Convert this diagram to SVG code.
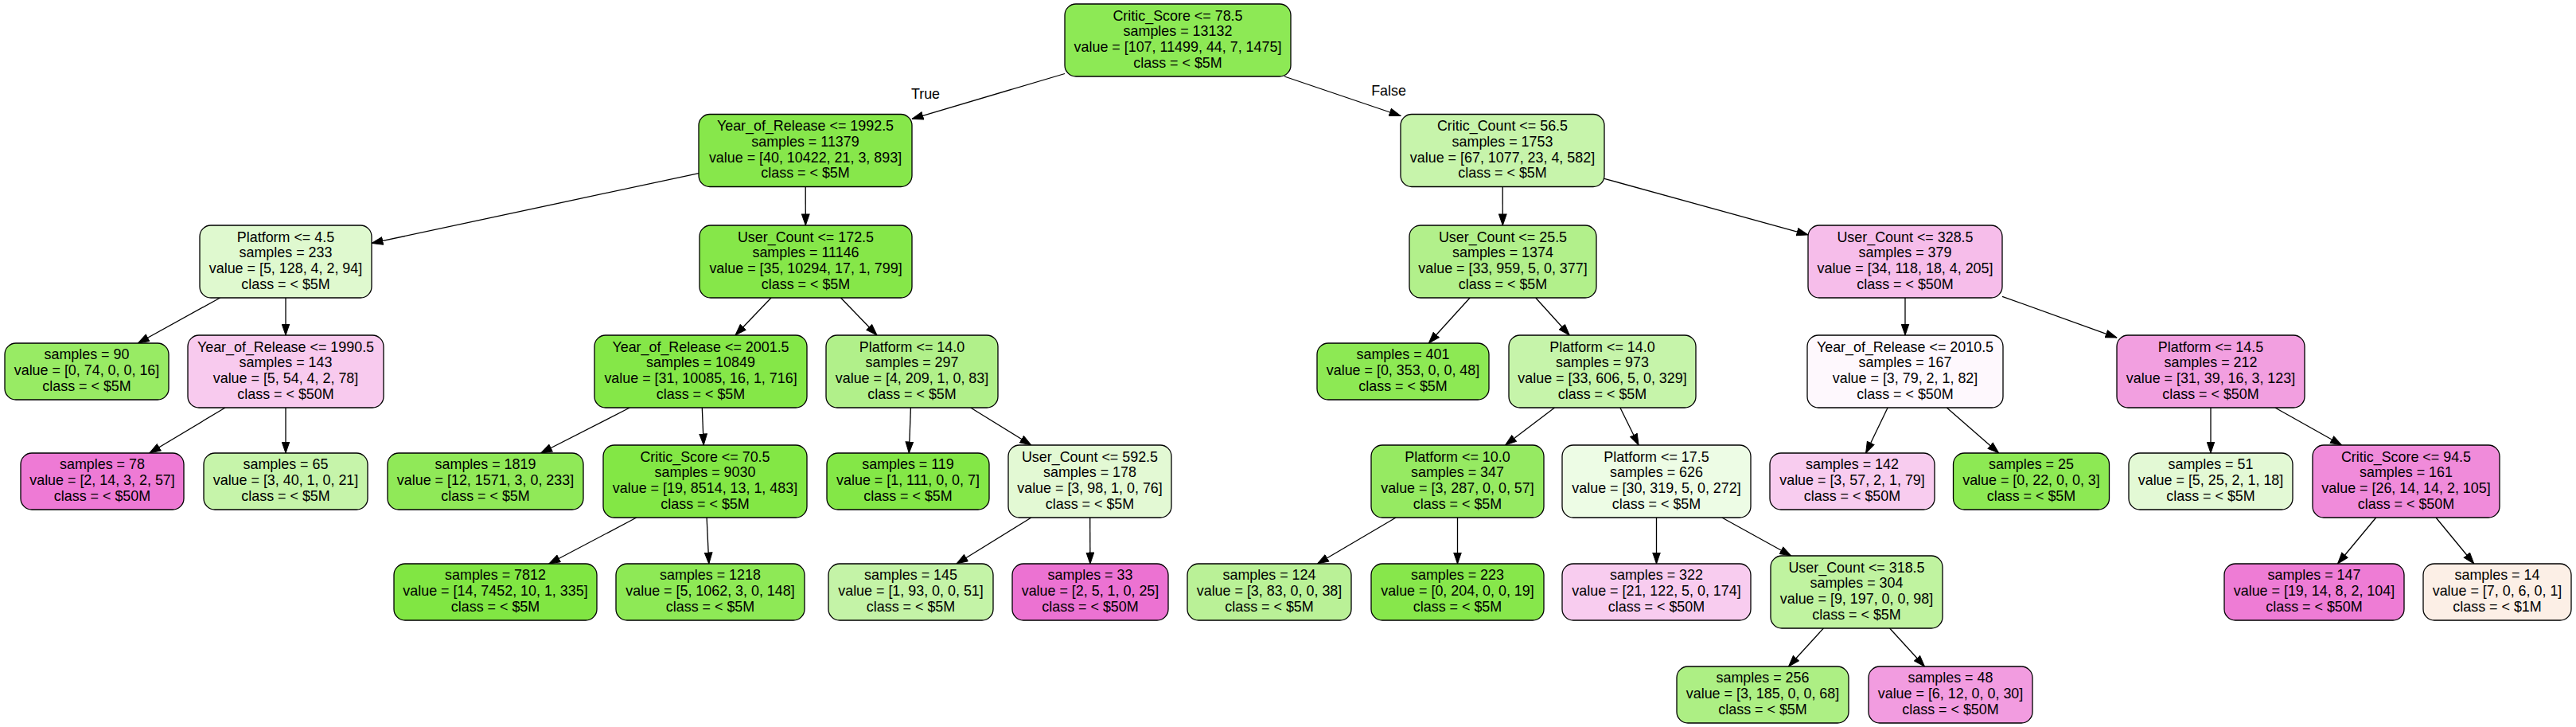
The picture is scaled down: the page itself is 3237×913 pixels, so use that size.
<svg xmlns="http://www.w3.org/2000/svg" width="3237" height="913" viewBox="0 0 3237 913">
<style>
.box{stroke:#000;stroke-width:1.3}
text{font-family:"Liberation Sans",Arial,Helvetica,sans-serif;font-size:17.9px;text-anchor:middle;fill:#000}
.edge{stroke:#000;stroke-width:1.3;fill:none;marker-end:url(#arrow)}
</style>
<defs>
<marker id="arrow" markerUnits="userSpaceOnUse" markerWidth="15" markerHeight="11" viewBox="0 0 15 11" refX="14.5" refY="5.5" orient="auto">
<path d="M0.5,0.7 L14.5,5.5 L0.5,10.3 Z" fill="#000" stroke="#000" stroke-width="1"/>
</marker>
</defs>
<rect width="3237" height="913" fill="#fff"/>
<g id="connectors">
<line class="edge" x1="1338" y1="92.5" x2="1146" y2="149.3"/>
<line class="edge" x1="1614" y1="96" x2="1760" y2="145.5"/>
<line class="edge" x1="878" y1="217.6" x2="467" y2="305.4"/>
<line class="edge" x1="1012.2" y1="234.5" x2="1012.3" y2="283"/>
<line class="edge" x1="276.6" y1="374" x2="173.3" y2="431"/>
<line class="edge" x1="359" y1="374" x2="359" y2="421"/>
<line class="edge" x1="283" y1="512" x2="187.8" y2="569"/>
<line class="edge" x1="359" y1="512" x2="359" y2="569"/>
<line class="edge" x1="969" y1="374" x2="924" y2="421"/>
<line class="edge" x1="1056.5" y1="374" x2="1102" y2="421"/>
<line class="edge" x1="791.3" y1="512" x2="679.6" y2="569"/>
<line class="edge" x1="882.3" y1="512" x2="884.2" y2="559"/>
<line class="edge" x1="799.8" y1="650" x2="689.8" y2="708"/>
<line class="edge" x1="888.1" y1="650" x2="890.8" y2="708"/>
<line class="edge" x1="1144.4" y1="512" x2="1142.3" y2="569"/>
<line class="edge" x1="1219.7" y1="512" x2="1295.8" y2="559"/>
<line class="edge" x1="1295.9" y1="650" x2="1202" y2="708"/>
<line class="edge" x1="1369.7" y1="650" x2="1369.9" y2="708"/>
<line class="edge" x1="1888.2" y1="234.5" x2="1888.3" y2="283"/>
<line class="edge" x1="2016" y1="224.3" x2="2272" y2="294.9"/>
<line class="edge" x1="1847.1" y1="374" x2="1795.3" y2="431"/>
<line class="edge" x1="1929.7" y1="374" x2="1972.3" y2="421"/>
<line class="edge" x1="1953.5" y1="512" x2="1891.5" y2="559"/>
<line class="edge" x1="2035.9" y1="512" x2="2059.1" y2="559"/>
<line class="edge" x1="1754.1" y1="650" x2="1655.4" y2="708"/>
<line class="edge" x1="1831.5" y1="650" x2="1831.5" y2="708"/>
<line class="edge" x1="2081.5" y1="650" x2="2081.5" y2="708"/>
<line class="edge" x1="2163.8" y1="650" x2="2250.7" y2="698"/>
<line class="edge" x1="2291.4" y1="789" x2="2247.5" y2="837"/>
<line class="edge" x1="2374.6" y1="789" x2="2418.5" y2="837"/>
<line class="edge" x1="2394" y1="374" x2="2394" y2="421"/>
<line class="edge" x1="2516" y1="372.3" x2="2660" y2="424.1"/>
<line class="edge" x1="2372.1" y1="512" x2="2344.6" y2="569"/>
<line class="edge" x1="2446.3" y1="512" x2="2511.7" y2="569"/>
<line class="edge" x1="2778" y1="512" x2="2778" y2="569"/>
<line class="edge" x1="2858.9" y1="512" x2="2942.6" y2="559"/>
<line class="edge" x1="2985.7" y1="650" x2="2937.5" y2="708"/>
<line class="edge" x1="3061" y1="650" x2="3108.8" y2="708"/>
<text x="1163" y="124">True</text>
<text x="1745" y="120">False</text>
</g>
<g id="node0"><rect class="box" x="1338" y="5" width="284" height="91" rx="14" fill="#8de955"/><text x="1480" y="25.5"><tspan x="1480">Critic_Score &lt;= 78.5</tspan><tspan x="1480" dy="19.8">samples = 13132</tspan><tspan x="1480" dy="19.8">value = [107, 11499, 44, 7, 1475]</tspan><tspan x="1480" dy="19.8">class = &lt; $5M</tspan></text></g>
<g id="node1"><rect class="box" x="878" y="143.5" width="268" height="91" rx="14" fill="#87e74b"/><text x="1012" y="164"><tspan x="1012">Year_of_Release &lt;= 1992.5</tspan><tspan x="1012" dy="19.8">samples = 11379</tspan><tspan x="1012" dy="19.8">value = [40, 10422, 21, 3, 893]</tspan><tspan x="1012" dy="19.8">class = &lt; $5M</tspan></text></g>
<g id="node2"><rect class="box" x="251" y="283" width="216" height="91" rx="14" fill="#dff9cf"/><text x="359" y="303.5"><tspan x="359">Platform &lt;= 4.5</tspan><tspan x="359" dy="19.8">samples = 233</tspan><tspan x="359" dy="19.8">value = [5, 128, 4, 2, 94]</tspan><tspan x="359" dy="19.8">class = &lt; $5M</tspan></text></g>
<g id="node3"><rect class="box" x="6" y="431" width="206" height="71" rx="14" fill="#98eb64"/><text x="109" y="451.4"><tspan x="109">samples = 90</tspan><tspan x="109" dy="19.8">value = [0, 74, 0, 0, 16]</tspan><tspan x="109" dy="19.8">class = &lt; $5M</tspan></text></g>
<g id="node4"><rect class="box" x="236" y="421" width="246" height="91" rx="14" fill="#f8caee"/><text x="359" y="441.5"><tspan x="359">Year_of_Release &lt;= 1990.5</tspan><tspan x="359" dy="19.8">samples = 143</tspan><tspan x="359" dy="19.8">value = [5, 54, 4, 2, 78]</tspan><tspan x="359" dy="19.8">class = &lt; $50M</tspan></text></g>
<g id="node5"><rect class="box" x="26" y="569" width="205" height="71" rx="14" fill="#ee7ad5"/><text x="128.5" y="589.4"><tspan x="128.5">samples = 78</tspan><tspan x="128.5" dy="19.8">value = [2, 14, 3, 2, 57]</tspan><tspan x="128.5" dy="19.8">class = &lt; $50M</tspan></text></g>
<g id="node6"><rect class="box" x="256" y="569" width="206" height="71" rx="14" fill="#c6f4aa"/><text x="359" y="589.4"><tspan x="359">samples = 65</tspan><tspan x="359" dy="19.8">value = [3, 40, 1, 0, 21]</tspan><tspan x="359" dy="19.8">class = &lt; $5M</tspan></text></g>
<g id="node7"><rect class="box" x="879" y="283" width="267" height="91" rx="14" fill="#86e749"/><text x="1012.5" y="303.5"><tspan x="1012.5">User_Count &lt;= 172.5</tspan><tspan x="1012.5" dy="19.8">samples = 11146</tspan><tspan x="1012.5" dy="19.8">value = [35, 10294, 17, 1, 799]</tspan><tspan x="1012.5" dy="19.8">class = &lt; $5M</tspan></text></g>
<g id="node8"><rect class="box" x="747" y="421" width="267" height="91" rx="14" fill="#85e748"/><text x="880.5" y="441.5"><tspan x="880.5">Year_of_Release &lt;= 2001.5</tspan><tspan x="880.5" dy="19.8">samples = 10849</tspan><tspan x="880.5" dy="19.8">value = [31, 10085, 16, 1, 716]</tspan><tspan x="880.5" dy="19.8">class = &lt; $5M</tspan></text></g>
<g id="node9"><rect class="box" x="487" y="569" width="246" height="71" rx="14" fill="#90e958"/><text x="610" y="589.4"><tspan x="610">samples = 1819</tspan><tspan x="610" dy="19.8">value = [12, 1571, 3, 0, 233]</tspan><tspan x="610" dy="19.8">class = &lt; $5M</tspan></text></g>
<g id="node10"><rect class="box" x="758" y="559" width="256" height="91" rx="14" fill="#83e745"/><text x="886" y="579.5"><tspan x="886">Critic_Score &lt;= 70.5</tspan><tspan x="886" dy="19.8">samples = 9030</tspan><tspan x="886" dy="19.8">value = [19, 8514, 13, 1, 483]</tspan><tspan x="886" dy="19.8">class = &lt; $5M</tspan></text></g>
<g id="node11"><rect class="box" x="495" y="708" width="255" height="71" rx="14" fill="#81e643"/><text x="622.5" y="728.4"><tspan x="622.5">samples = 7812</tspan><tspan x="622.5" dy="19.8">value = [14, 7452, 10, 1, 335]</tspan><tspan x="622.5" dy="19.8">class = &lt; $5M</tspan></text></g>
<g id="node12"><rect class="box" x="774" y="708" width="237" height="71" rx="14" fill="#8ee956"/><text x="892.5" y="728.4"><tspan x="892.5">samples = 1218</tspan><tspan x="892.5" dy="19.8">value = [5, 1062, 3, 0, 148]</tspan><tspan x="892.5" dy="19.8">class = &lt; $5M</tspan></text></g>
<g id="node13"><rect class="box" x="1038" y="421" width="216" height="91" rx="14" fill="#b1f08a"/><text x="1146" y="441.5"><tspan x="1146">Platform &lt;= 14.0</tspan><tspan x="1146" dy="19.8">samples = 297</tspan><tspan x="1146" dy="19.8">value = [4, 209, 1, 0, 83]</tspan><tspan x="1146" dy="19.8">class = &lt; $5M</tspan></text></g>
<g id="node14"><rect class="box" x="1039" y="569" width="204" height="71" rx="14" fill="#84e747"/><text x="1141" y="589.4"><tspan x="1141">samples = 119</tspan><tspan x="1141" dy="19.8">value = [1, 111, 0, 0, 7]</tspan><tspan x="1141" dy="19.8">class = &lt; $5M</tspan></text></g>
<g id="node15"><rect class="box" x="1267" y="559" width="205" height="91" rx="14" fill="#e3f9d4"/><text x="1369.5" y="579.5"><tspan x="1369.5">User_Count &lt;= 592.5</tspan><tspan x="1369.5" dy="19.8">samples = 178</tspan><tspan x="1369.5" dy="19.8">value = [3, 98, 1, 0, 76]</tspan><tspan x="1369.5" dy="19.8">class = &lt; $5M</tspan></text></g>
<g id="node16"><rect class="box" x="1041" y="708" width="207" height="71" rx="14" fill="#c4f3a7"/><text x="1144.5" y="728.4"><tspan x="1144.5">samples = 145</tspan><tspan x="1144.5" dy="19.8">value = [1, 93, 0, 0, 51]</tspan><tspan x="1144.5" dy="19.8">class = &lt; $5M</tspan></text></g>
<g id="node17"><rect class="box" x="1272" y="708" width="196" height="71" rx="14" fill="#ec72d2"/><text x="1370" y="728.4"><tspan x="1370">samples = 33</tspan><tspan x="1370" dy="19.8">value = [2, 5, 1, 0, 25]</tspan><tspan x="1370" dy="19.8">class = &lt; $50M</tspan></text></g>
<g id="node18"><rect class="box" x="1760" y="143.5" width="256" height="91" rx="14" fill="#c7f4ab"/><text x="1888" y="164"><tspan x="1888">Critic_Count &lt;= 56.5</tspan><tspan x="1888" dy="19.8">samples = 1753</tspan><tspan x="1888" dy="19.8">value = [67, 1077, 23, 4, 582]</tspan><tspan x="1888" dy="19.8">class = &lt; $5M</tspan></text></g>
<g id="node19"><rect class="box" x="1771" y="283" width="235" height="91" rx="14" fill="#b2f08b"/><text x="1888.5" y="303.5"><tspan x="1888.5">User_Count &lt;= 25.5</tspan><tspan x="1888.5" dy="19.8">samples = 1374</tspan><tspan x="1888.5" dy="19.8">value = [33, 959, 5, 0, 377]</tspan><tspan x="1888.5" dy="19.8">class = &lt; $5M</tspan></text></g>
<g id="node20"><rect class="box" x="1655" y="431" width="216" height="71" rx="14" fill="#8de954"/><text x="1763" y="451.4"><tspan x="1763">samples = 401</tspan><tspan x="1763" dy="19.8">value = [0, 353, 0, 0, 48]</tspan><tspan x="1763" dy="19.8">class = &lt; $5M</tspan></text></g>
<g id="node21"><rect class="box" x="1896" y="421" width="235" height="91" rx="14" fill="#c6f4aa"/><text x="2013.5" y="441.5"><tspan x="2013.5">Platform &lt;= 14.0</tspan><tspan x="2013.5" dy="19.8">samples = 973</tspan><tspan x="2013.5" dy="19.8">value = [33, 606, 5, 0, 329]</tspan><tspan x="2013.5" dy="19.8">class = &lt; $5M</tspan></text></g>
<g id="node22"><rect class="box" x="1723" y="559" width="217" height="91" rx="14" fill="#96ea62"/><text x="1831.5" y="579.5"><tspan x="1831.5">Platform &lt;= 10.0</tspan><tspan x="1831.5" dy="19.8">samples = 347</tspan><tspan x="1831.5" dy="19.8">value = [3, 287, 0, 0, 57]</tspan><tspan x="1831.5" dy="19.8">class = &lt; $5M</tspan></text></g>
<g id="node23"><rect class="box" x="1492" y="708" width="206" height="71" rx="14" fill="#baf197"/><text x="1595" y="728.4"><tspan x="1595">samples = 124</tspan><tspan x="1595" dy="19.8">value = [3, 83, 0, 0, 38]</tspan><tspan x="1595" dy="19.8">class = &lt; $5M</tspan></text></g>
<g id="node24"><rect class="box" x="1723" y="708" width="217" height="71" rx="14" fill="#87e74b"/><text x="1831.5" y="728.4"><tspan x="1831.5">samples = 223</tspan><tspan x="1831.5" dy="19.8">value = [0, 204, 0, 0, 19]</tspan><tspan x="1831.5" dy="19.8">class = &lt; $5M</tspan></text></g>
<g id="node25"><rect class="box" x="1963" y="559" width="237" height="91" rx="14" fill="#edfce5"/><text x="2081.5" y="579.5"><tspan x="2081.5">Platform &lt;= 17.5</tspan><tspan x="2081.5" dy="19.8">samples = 626</tspan><tspan x="2081.5" dy="19.8">value = [30, 319, 5, 0, 272]</tspan><tspan x="2081.5" dy="19.8">class = &lt; $5M</tspan></text></g>
<g id="node26"><rect class="box" x="1963" y="708" width="237" height="71" rx="14" fill="#f8ccef"/><text x="2081.5" y="728.4"><tspan x="2081.5">samples = 322</tspan><tspan x="2081.5" dy="19.8">value = [21, 122, 5, 0, 174]</tspan><tspan x="2081.5" dy="19.8">class = &lt; $50M</tspan></text></g>
<g id="node27"><rect class="box" x="2225" y="698" width="216" height="91" rx="14" fill="#c0f3a0"/><text x="2333" y="718.5"><tspan x="2333">User_Count &lt;= 318.5</tspan><tspan x="2333" dy="19.8">samples = 304</tspan><tspan x="2333" dy="19.8">value = [9, 197, 0, 0, 98]</tspan><tspan x="2333" dy="19.8">class = &lt; $5M</tspan></text></g>
<g id="node28"><rect class="box" x="2107" y="837" width="216" height="71" rx="14" fill="#adef84"/><text x="2215" y="857.4"><tspan x="2215">samples = 256</tspan><tspan x="2215" dy="19.8">value = [3, 185, 0, 0, 68]</tspan><tspan x="2215" dy="19.8">class = &lt; $5M</tspan></text></g>
<g id="node29"><rect class="box" x="2348" y="837" width="206" height="71" rx="14" fill="#f29ce0"/><text x="2451" y="857.4"><tspan x="2451">samples = 48</tspan><tspan x="2451" dy="19.8">value = [6, 12, 0, 0, 30]</tspan><tspan x="2451" dy="19.8">class = &lt; $50M</tspan></text></g>
<g id="node30"><rect class="box" x="2272" y="283" width="244" height="91" rx="14" fill="#f6bdea"/><text x="2394" y="303.5"><tspan x="2394">User_Count &lt;= 328.5</tspan><tspan x="2394" dy="19.8">samples = 379</tspan><tspan x="2394" dy="19.8">value = [34, 118, 18, 4, 205]</tspan><tspan x="2394" dy="19.8">class = &lt; $50M</tspan></text></g>
<g id="node31"><rect class="box" x="2271" y="421" width="246" height="91" rx="14" fill="#fef8fd"/><text x="2394" y="441.5"><tspan x="2394">Year_of_Release &lt;= 2010.5</tspan><tspan x="2394" dy="19.8">samples = 167</tspan><tspan x="2394" dy="19.8">value = [3, 79, 2, 1, 82]</tspan><tspan x="2394" dy="19.8">class = &lt; $50M</tspan></text></g>
<g id="node32"><rect class="box" x="2224" y="569" width="207" height="71" rx="14" fill="#f8ccef"/><text x="2327.5" y="589.4"><tspan x="2327.5">samples = 142</tspan><tspan x="2327.5" dy="19.8">value = [3, 57, 2, 1, 79]</tspan><tspan x="2327.5" dy="19.8">class = &lt; $50M</tspan></text></g>
<g id="node33"><rect class="box" x="2454.5" y="569" width="196" height="71" rx="14" fill="#8de954"/><text x="2552.5" y="589.4"><tspan x="2552.5">samples = 25</tspan><tspan x="2552.5" dy="19.8">value = [0, 22, 0, 0, 3]</tspan><tspan x="2552.5" dy="19.8">class = &lt; $5M</tspan></text></g>
<g id="node34"><rect class="box" x="2660" y="421" width="236" height="91" rx="14" fill="#f29fe0"/><text x="2778" y="441.5"><tspan x="2778">Platform &lt;= 14.5</tspan><tspan x="2778" dy="19.8">samples = 212</tspan><tspan x="2778" dy="19.8">value = [31, 39, 16, 3, 123]</tspan><tspan x="2778" dy="19.8">class = &lt; $50M</tspan></text></g>
<g id="node35"><rect class="box" x="2675" y="569" width="206" height="71" rx="14" fill="#e3f9d5"/><text x="2778" y="589.4"><tspan x="2778">samples = 51</tspan><tspan x="2778" dy="19.8">value = [5, 25, 2, 1, 18]</tspan><tspan x="2778" dy="19.8">class = &lt; $5M</tspan></text></g>
<g id="node36"><rect class="box" x="2906" y="559" width="235" height="91" rx="14" fill="#f08bda"/><text x="3023.5" y="579.5"><tspan x="3023.5">Critic_Score &lt;= 94.5</tspan><tspan x="3023.5" dy="19.8">samples = 161</tspan><tspan x="3023.5" dy="19.8">value = [26, 14, 14, 2, 105]</tspan><tspan x="3023.5" dy="19.8">class = &lt; $50M</tspan></text></g>
<g id="node37"><rect class="box" x="2795" y="708" width="226" height="71" rx="14" fill="#ee7cd5"/><text x="2908" y="728.4"><tspan x="2908">samples = 147</tspan><tspan x="2908" dy="19.8">value = [19, 14, 8, 2, 104]</tspan><tspan x="2908" dy="19.8">class = &lt; $50M</tspan></text></g>
<g id="node38"><rect class="box" x="3045" y="708" width="186" height="71" rx="14" fill="#fcefe6"/><text x="3138" y="728.4"><tspan x="3138">samples = 14</tspan><tspan x="3138" dy="19.8">value = [7, 0, 6, 0, 1]</tspan><tspan x="3138" dy="19.8">class = &lt; $1M</tspan></text></g>
</svg>
